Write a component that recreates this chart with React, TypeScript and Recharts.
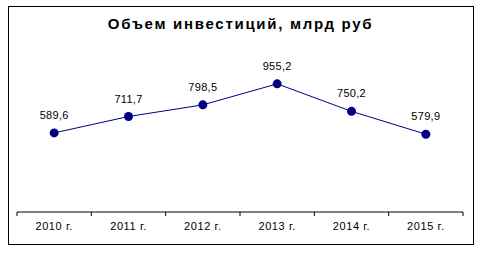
import { LineChart, Line, XAxis, YAxis, LabelList } from 'recharts'

const years = ['2010 г.', '2011 г.', '2012 г.', '2013 г.', '2014 г.', '2015 г.']
const investments = [589.6, 711.7, 798.5, 955.2, 750.2, 579.9]
const boundaryTicks = [-0.5, 0.5, 1.5, 2.5, 3.5, 4.5, 5.5]
const labelTicks = [0, 1, 2, 3, 4, 5]

const data = years.map((year, i) => ({ idx: i, year, value: investments[i] }))

const font = '"Liberation Sans", Arial, sans-serif'
const navy = '#000080'

const fmt = (v: any) => Number(v).toFixed(1).replace('.', ',')

export default function App() {
  return (
    <div style={{ position: 'absolute', left: 0, top: 0, width: 481, height: 253, background: '#fff' }}>
      <div
        style={{
          position: 'absolute',
          left: 8,
          top: 6,
          width: 466,
          height: 239,
          boxSizing: 'border-box',
          border: '1px solid #000',
        }}
      />
      <div
        style={{
          position: 'absolute',
          left: 0,
          top: 15,
          width: 481,
          textAlign: 'center',
          fontFamily: font,
          fontWeight: 'bold',
          fontSize: 15,
          letterSpacing: 1.7,
          color: '#000',
          lineHeight: '17px',
        }}
      >
        Объем инвестиций, млрд руб
      </div>
      <LineChart
        width={481}
        height={253}
        data={data}
        margin={{ top: 51, right: 18, left: 17, bottom: 0 }}
        style={{ position: 'absolute', left: 0, top: 0 }}
      >
        <XAxis
          xAxisId="a"
          dataKey="idx"
          type="number"
          domain={[-0.5, 5.5]}
          ticks={boundaryTicks}
          tickFormatter={() => ''}
          height={5}
          tickSize={4}
          axisLine={{ stroke: '#000' }}
          tickLine={{ stroke: '#000' }}
          allowDataOverflow
        />
        <XAxis
          xAxisId="b"
          dataKey="idx"
          type="number"
          domain={[-0.5, 5.5]}
          ticks={labelTicks}
          tickFormatter={(i: number) => years[i]}
          height={36}
          tickSize={0}
          tickMargin={5}
          axisLine={false}
          tickLine={false}
          interval={0}
          tick={{ fontSize: 11, fill: '#000', fontFamily: font, letterSpacing: 0.6 }}
        />
        <YAxis hide domain={[0, 1200]} width={0} />
        <Line
          xAxisId="a"
          dataKey="value"
          stroke={navy}
          strokeWidth={1}
          dot={{ r: 4.5, fill: navy, stroke: navy, strokeWidth: 0 }}
          activeDot={false}
          isAnimationActive={false}
        >
          <LabelList
            dataKey="value"
            position="top"
            offset={14}
            formatter={fmt}
            style={{ fontSize: 11, fill: '#000', fontFamily: font, letterSpacing: 0.3 }}
          />
        </Line>
      </LineChart>
    </div>
  )
}
